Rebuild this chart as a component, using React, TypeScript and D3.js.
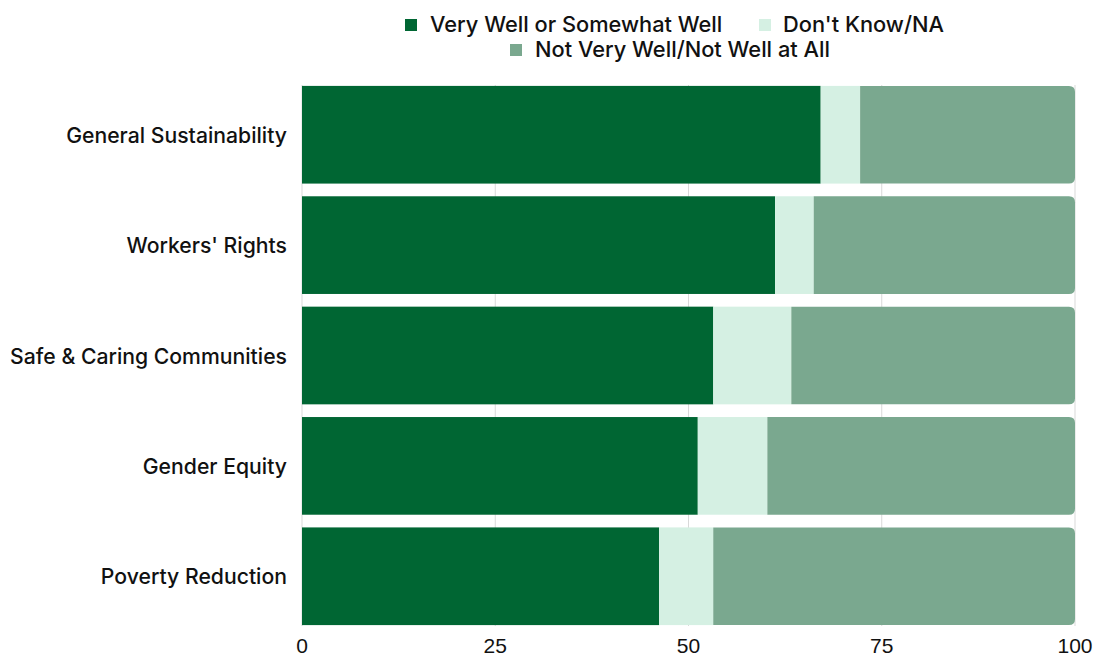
import React from "react";
import * as d3 from "d3";

const categories = ["General Sustainability", "Workers' Rights", "Safe & Caring Communities", "Gender Equity", "Poverty Reduction"];
const wellValues = [67.1, 61.2, 53.2, 51.2, 46.2];
const dkValues = [5.1, 5.0, 10.1, 9.0, 7.0];
const notWellValues = [27.8, 33.8, 36.7, 39.8, 46.8];
const seriesNames = ["Very Well or Somewhat Well", "Don't Know/NA", "Not Very Well/Not Well at All"];
const colors = ["#006633", "#d5f0e3", "#7aa88f"];
const ticks = [0, 25, 50, 75, 100];

const W = 1097, H = 658;
const left = 302, right = 1075, top = 85, bottom = 626;

export default function App() {
  const x = d3.scaleLinear().domain([0, 100]).range([left, right]);
  const y = d3.scaleBand().domain(categories).range([top - 5.5, bottom + 5.5]).paddingInner(0.115).paddingOuter(0.058);
  const series = [wellValues, dkValues, notWellValues];
  const font = "Inter, 'Open Sans', sans-serif";
  const r = 6;
  return (
    <svg width={W} height={H} style={{ position: "absolute", left: 0, top: 0 }} fontFamily={font}>
      {ticks.map((t) => (
        <line key={t} x1={x(t)} x2={x(t)} y1={top} y2={bottom} stroke="#d9d9d9" strokeWidth={1} />
      ))}
      {categories.map((c, i) => {
        let acc = 0;
        const yy = y(c)!;
        const h = y.bandwidth();
        return (
          <g key={c}>
            {series.map((s, k) => {
              const x0 = x(acc);
              acc += s[i];
              const x1 = x(acc);
              if (k === series.length - 1) {
                const p = `M${x0},${yy} H${x1 - r} Q${x1},${yy} ${x1},${yy + r} V${yy + h - r} Q${x1},${yy + h} ${x1 - r},${yy + h} H${x0} Z`;
                return <path key={k} d={p} fill={colors[k]} />;
              }
              return <rect key={k} x={x0} y={yy} width={x1 - x0} height={h} fill={colors[k]} />;
            })}
            <text x={287} y={yy + h / 2} textAnchor="end" dominantBaseline="central" fontSize={21.2} fontWeight={500} fill="#111">{c}</text>
          </g>
        );
      })}
      {ticks.map((t) => (
        <text key={t} x={x(t)} y={653} textAnchor="middle" fontSize={21} fill="#111" fontFamily="'Liberation Sans', Arial, sans-serif">{t}</text>
      ))}
      <g fontSize={21.8} fontWeight={500} fill="#111">
        <rect x={405} y={19} width={12} height={12} fill={colors[0]} />
        <text x={430} y={24} dominantBaseline="central">{seriesNames[0]}</text>
        <rect x={759} y={19} width={12} height={12} fill={colors[1]} />
        <text x={783} y={24} dominantBaseline="central">{seriesNames[1]}</text>
        <rect x={510} y={44} width={12} height={12} fill={colors[2]} />
        <text x={535} y={49} dominantBaseline="central">{seriesNames[2]}</text>
      </g>
    </svg>
  );
}
